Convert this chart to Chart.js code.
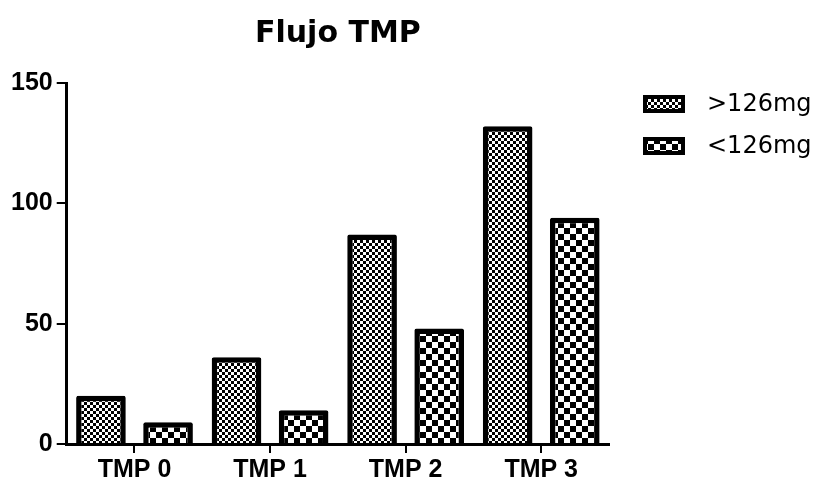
<!DOCTYPE html>
<html>
<head>
<meta charset="utf-8">
<script src="https://cdn.jsdelivr.net/npm/chart.js@4/dist/chart.umd.min.js"></script>
<style>
  html, body { margin: 0; padding: 0; background: #fff; }
  #wrap { width: 814px; height: 483px; }
</style>
</head>
<body>
<div id="wrap"><canvas id="chart" width="814" height="483"></canvas></div>
<script>
const categories = ['TMP 0', 'TMP 1', 'TMP 2', 'TMP 3'];
const seriesNames = ['>126mg', '<126mg'];
const above126 = [20, 36, 87, 132];
const below126 = [9, 14, 48, 94];
const yTicks = [0, 50, 100, 150];

const canvas = document.getElementById('chart');
const ctx = canvas.getContext('2d');

// checker tile used as bar fill
function checker(cell) {
    const tile = document.createElement('canvas');
    tile.width = cell * 2;
    tile.height = cell * 2;
    const t = tile.getContext('2d');
    t.fillStyle = '#fff';
    t.fillRect(0, 0, cell * 2, cell * 2);
    t.fillStyle = '#000';
    t.fillRect(0, 0, cell, cell);
    t.fillRect(cell, cell, cell, cell);
    return ctx.createPattern(tile, 'repeat');
}
const fineFill = checker(3);
const coarseFill = checker(6);

// legend drawn at the right, next to the plot
const sideLegend = {
    id: 'sideLegend',
    afterDraw(chart) {
        const c = chart.ctx;
        chart.data.datasets.forEach((ds, i) => {
            const y = 95 + i * 42;
            c.save();
            c.fillStyle = ds.backgroundColor;
            c.fillRect(643, y, 42, 18);
            c.lineWidth = 4;
            c.strokeStyle = '#000';
            c.strokeRect(645, y + 2, 38, 14);
            c.fillStyle = '#000';
            c.font = '24px "DejaVu Sans"';
            c.textBaseline = 'middle';
            c.fillText(ds.label, 707, y + 10);
            c.restore();
        });
    }
};

Chart.defaults.font.family = '"Liberation Sans", Arial, sans-serif';
Chart.defaults.color = '#000';

new Chart(canvas, {
    type: 'bar',
    data: {
        labels: categories,
        datasets: [{
            label: seriesNames[0],
            data: above126,
            backgroundColor: fineFill,
            borderColor: '#000',
            borderWidth: 5.5,
            borderRadius: 2,
            borderSkipped: 'start'
        }, {
            label: seriesNames[1],
            data: below126,
            backgroundColor: coarseFill,
            borderColor: '#000',
            borderWidth: 5.5,
            borderRadius: 2,
            borderSkipped: 'start'
        }]
    },
    options: {
        responsive: false,
        animation: false,
        categoryPercentage: 0.99,
        barPercentage: 0.74,
        layout: {
            padding: { left: 7, right: 205, top: 0, bottom: -4 }
        },
        plugins: {
            legend: { display: false },
            tooltip: { enabled: false },
            title: {
                display: true,
                text: 'Flujo TMP',
                fullSize: false,
                color: '#000',
                font: { family: '"DejaVu Sans"', size: 30, weight: 'bold', lineHeight: 1.2 },
                padding: { top: 16, bottom: 31 }
            }
        },
        scales: {
            x: {
                grid: {
                    offset: false,
                    drawOnChartArea: false,
                    drawTicks: true,
                    tickLength: 9,
                    color: '#000',
                    lineWidth: 2
                },
                border: { color: '#000', width: 3 },
                ticks: {
                    padding: 7,
                    font: { size: 25, weight: 'bold', lineHeight: 0.8 }
                }
            },
            y: {
                min: 0,
                max: 150,
                afterBuildTicks(scale) {
                    scale.ticks = yTicks.map(v => ({ value: v }));
                },
                grid: {
                    drawOnChartArea: false,
                    drawTicks: true,
                    tickLength: 10,
                    color: '#000',
                    lineWidth: 2
                },
                border: { color: '#000', width: 3 },
                ticks: {
                    padding: 4,
                    font: { size: 25, weight: 'bold' }
                }
            }
        }
    },
    plugins: [sideLegend]
});
</script>
</body>
</html>
